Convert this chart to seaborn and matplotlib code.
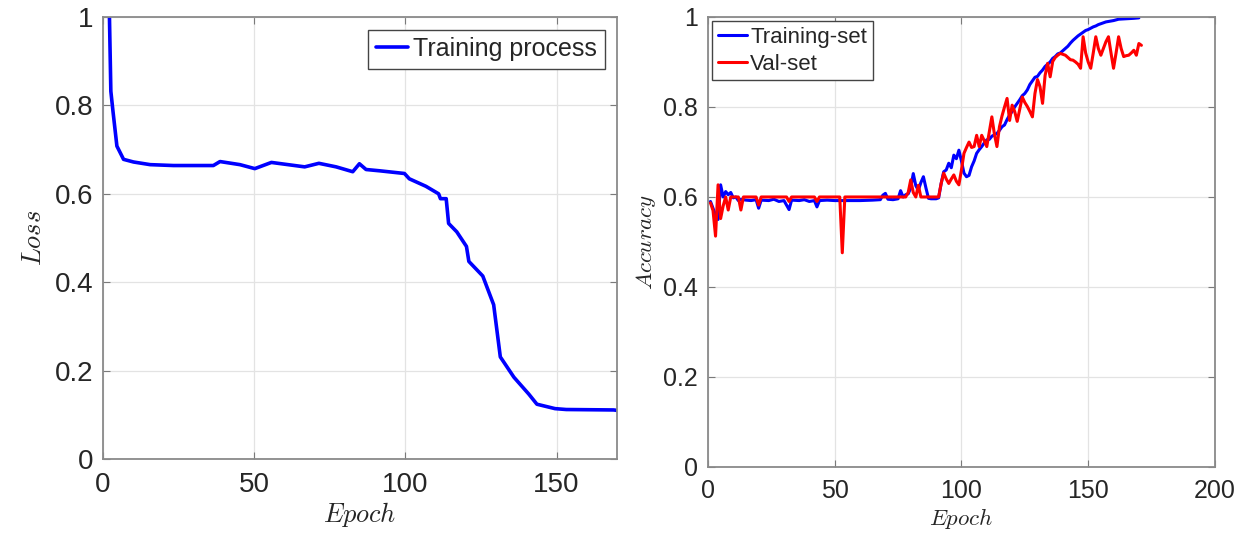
import numpy as np
import pandas as pd
import seaborn as sns
import matplotlib.pyplot as plt
from matplotlib.ticker import FuncFormatter

# Loss curve (left panel)
loss_epoch = [2, 2.6, 3.3, 4.6, 6.8, 10.1, 15.6, 23.3, 36.5, 38.7, 45.3, 50.2,
              55.7, 66.7, 71.4, 77.1, 82.6, 84.8, 87.0, 91.6, 99.7, 101.3,
              106.8, 111.0, 111.6, 113.5, 114.3, 117.0, 120.2, 121.0, 125.6,
              129.2, 131.4, 135.9, 140.8, 143.5, 149.5, 153.2, 168.9, 170]
loss_value = [1.05, 0.832, 0.787, 0.708, 0.678, 0.672, 0.666, 0.664, 0.664,
              0.673, 0.666, 0.657, 0.671, 0.661, 0.669, 0.661, 0.650, 0.668,
              0.655, 0.652, 0.646, 0.634, 0.617, 0.600, 0.589, 0.589, 0.533,
              0.514, 0.481, 0.447, 0.414, 0.349, 0.231, 0.185, 0.147, 0.124,
              0.114, 0.112, 0.111, 0.110]

# Accuracy curves (right panel)
train_epoch = [1, 2, 3, 4, 5, 6, 7, 8, 9, 10, 11, 12, 13, 15, 17, 19, 20, 21,
               24, 26, 28, 30, 32, 33, 36, 38, 40, 42, 43, 44, 47, 50, 55, 60,
               65, 68, 69, 70, 71, 73, 75, 76, 77, 78, 79, 80, 81, 82, 83, 84,
               85, 86, 87, 88, 89, 90, 91, 92, 93, 94, 95, 96, 97, 98, 99, 100,
               101, 102, 103, 104, 105, 106, 107, 108, 109, 110, 111, 112, 114,
               115, 116, 117, 118, 119, 120, 121, 122, 123, 124, 125, 126, 127,
               128, 129, 130, 131, 132, 133, 134, 135, 136, 137, 138, 139, 140,
               141, 142, 143, 144, 145, 146, 147, 148, 149, 150, 151, 152, 153,
               154, 155, 156, 157, 158, 160, 162, 165, 168, 170]
train_acc = [0.59, 0.575, 0.56, 0.55, 0.627, 0.60, 0.612, 0.605, 0.61, 0.598,
             0.60, 0.592, 0.595, 0.593, 0.592, 0.594, 0.575, 0.593, 0.592,
             0.595, 0.59, 0.592, 0.572, 0.593, 0.592, 0.594, 0.59, 0.592,
             0.578, 0.592, 0.593, 0.592, 0.592, 0.592, 0.593, 0.594, 0.604,
             0.608, 0.595, 0.594, 0.596, 0.614, 0.60, 0.605, 0.607, 0.62,
             0.652, 0.625, 0.615, 0.632, 0.645, 0.62, 0.597, 0.596, 0.596,
             0.596, 0.598, 0.63, 0.656, 0.66, 0.675, 0.665, 0.693, 0.685,
             0.704, 0.68, 0.653, 0.645, 0.648, 0.667, 0.68, 0.697, 0.705,
             0.712, 0.72, 0.727, 0.728, 0.735, 0.741, 0.748, 0.756, 0.76,
             0.772, 0.782, 0.79, 0.80, 0.808, 0.816, 0.825, 0.83, 0.838, 0.85,
             0.858, 0.866, 0.868, 0.876, 0.882, 0.89, 0.895, 0.90, 0.908,
             0.912, 0.918, 0.92, 0.925, 0.93, 0.935, 0.942, 0.948, 0.953,
             0.958, 0.962, 0.966, 0.97, 0.972, 0.975, 0.978, 0.98, 0.983,
             0.985, 0.987, 0.989, 0.99, 0.992, 0.995, 0.996, 0.997, 0.998]

val_epoch = [1, 2, 3, 4, 5, 6, 7, 8, 9, 10, 12, 13, 14, 19, 20, 21, 31, 32,
             33, 42, 43, 44, 52, 53, 54, 78, 79, 80, 81, 82, 83, 84, 91, 92,
             93, 94, 95, 96, 97, 98, 99, 100, 101, 102, 103, 104, 105, 106,
             107, 108, 109, 110, 111, 112, 113, 114, 115, 116, 117, 118, 119,
             120, 121, 122, 123, 124, 125, 126, 127, 128, 129, 130, 131, 132,
             133, 134, 135, 136, 137, 138, 139, 140, 141, 142, 143, 144, 145,
             146, 147, 148, 149, 150, 151, 152, 153, 154, 155, 156, 157, 158,
             159, 160, 161, 162, 163, 164, 165, 166, 167, 168, 169, 170, 171]
val_acc = [0.587, 0.57, 0.513, 0.627, 0.552, 0.58, 0.60, 0.571, 0.60, 0.60,
           0.60, 0.571, 0.60, 0.60, 0.582, 0.60, 0.60, 0.59, 0.60, 0.60, 0.59,
           0.60, 0.60, 0.476, 0.60, 0.60, 0.61, 0.638, 0.61, 0.60, 0.626,
           0.60, 0.60, 0.63, 0.653, 0.64, 0.63, 0.64, 0.649, 0.635, 0.627,
           0.66, 0.697, 0.71, 0.722, 0.71, 0.712, 0.737, 0.712, 0.737, 0.725,
           0.712, 0.745, 0.778, 0.74, 0.712, 0.756, 0.78, 0.80, 0.819, 0.77,
           0.804, 0.79, 0.768, 0.795, 0.822, 0.81, 0.801, 0.79, 0.778, 0.83,
           0.861, 0.845, 0.808, 0.87, 0.897, 0.867, 0.901, 0.91, 0.915, 0.919,
           0.917, 0.915, 0.91, 0.905, 0.904, 0.90, 0.895, 0.886, 0.956, 0.92,
           0.90, 0.886, 0.92, 0.956, 0.93, 0.915, 0.93, 0.945, 0.956, 0.92,
           0.886, 0.92, 0.956, 0.93, 0.912, 0.914, 0.915, 0.92, 0.926, 0.915,
           0.941, 0.937]

y_ticks = [0, 0.2, 0.4, 0.6, 0.8, 1.0]

sns.set_style("ticks")
plt.rcParams['font.family'] = ['Liberation Sans', 'DejaVu Sans']
plt.rcParams['mathtext.fontset'] = 'cm'

fig = plt.figure(figsize=(12.59, 5.42), dpi=100)
ax1 = fig.add_axes([0.0818, 0.1531, 0.4083, 0.8155])
ax2 = fig.add_axes([0.5623, 0.1384, 0.4027, 0.8303])

fmt = FuncFormatter(lambda v, p: f"{v:g}")


def style_axis(ax, fs):
    ax.set_ylim(0, 1)
    ax.set_yticks(y_ticks)
    ax.xaxis.set_major_formatter(fmt)
    ax.yaxis.set_major_formatter(fmt)
    ax.grid(True, color='#e3e3e3', lw=0.9)
    ax.set_axisbelow(True)
    ax.tick_params(direction='in', top=True, right=True, length=5,
                   color='#7a7a7a', labelsize=fs, labelcolor='#262626')
    ax.tick_params(axis='y', pad=7)
    ax.tick_params(axis='x', pad=9)
    for s in ax.spines.values():
        s.set_visible(True)
        s.set_color('#8a8a8a')
        s.set_linewidth(1.3)


sns.lineplot(x=loss_epoch, y=loss_value, ax=ax1, color='#0000ff', lw=2.6,
             label='Training process')
ax1.set_xlim(0, 170)
ax1.set_xticks([0, 50, 100, 150])
style_axis(ax1, 20)
ax1.set_xlabel(r'$Epoch$', fontsize=19, labelpad=2)
ax1.set_ylabel(r'$Loss$', fontsize=19, labelpad=6)
ax1.legend(loc='upper right', fontsize=18, fancybox=False, framealpha=1,
           edgecolor='#444444', handlelength=1.3, handletextpad=0.2,
           borderpad=0.3, borderaxespad=0.5)

sns.lineplot(x=train_epoch, y=train_acc, ax=ax2, color='#0000ff', lw=2.2,
             label='Training-set')
sns.lineplot(x=val_epoch, y=val_acc, ax=ax2, color='#ff0000', lw=2.2,
             label='Val-set')
ax2.set_xlim(0, 200)
ax2.set_xticks([0, 50, 100, 150, 200])
style_axis(ax2, 18)
ax2.set_xlabel(r'$Epoch$', fontsize=16.5, labelpad=2)
ax2.set_ylabel(r'$Accuracy$', fontsize=16.5, labelpad=4)
ax2.legend(loc='upper left', fontsize=16, fancybox=False, framealpha=1,
           edgecolor='#444444', handlelength=1.3, handletextpad=0.15,
           borderpad=0.25, borderaxespad=0.2, labelspacing=0.25)

fig.savefig('out.png', dpi=100)
